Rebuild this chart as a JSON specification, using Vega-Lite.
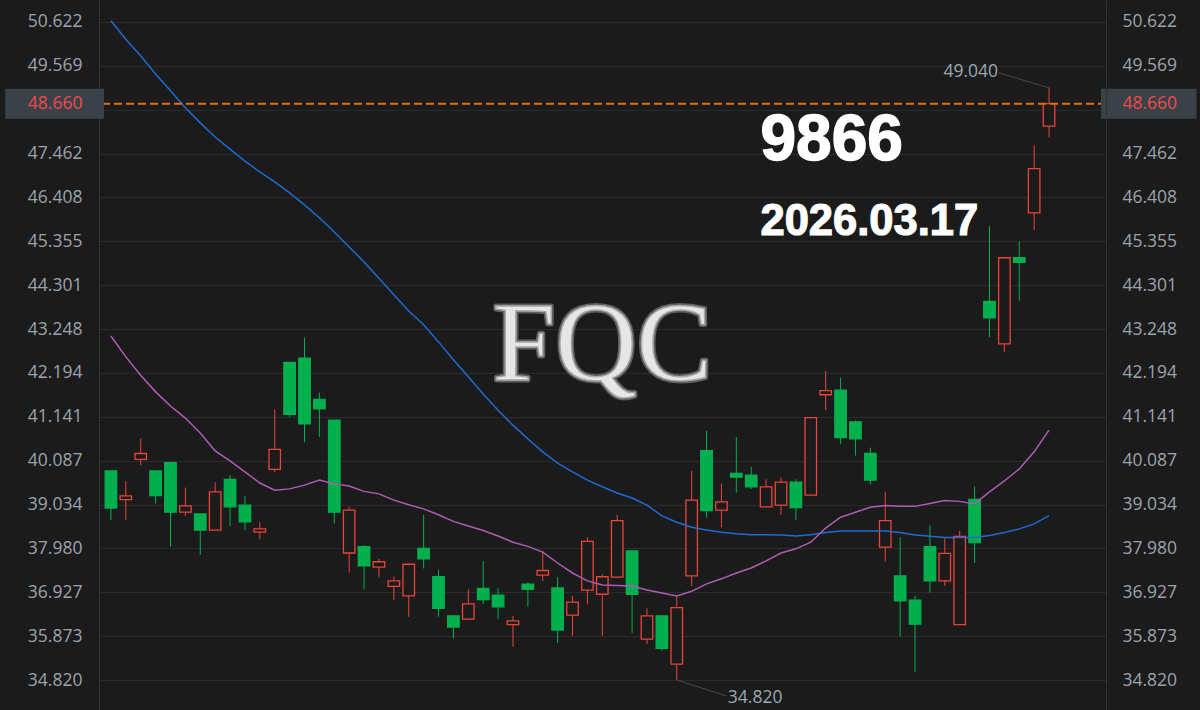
{
  "$schema": "https://vega.github.io/schema/vega-lite/v6.json",
  "width": 1007,
  "height": 710,
  "autosize": {"type": "none"},
  "padding": {"left": 99, "right": 94, "top": 0, "bottom": 0},
  "background": "#1b1b1b",
  "config": {"view": {"stroke": null}},
  "data": {"values": [
    {"i":0,"open":39.84,"high":39.84,"low":38.66,"close":38.95,"ma20":43.08,"ma60":50.65},
    {"i":1,"open":39.15,"high":39.60,"low":38.66,"close":39.24,"ma20":42.58,"ma60":50.21},
    {"i":2,"open":40.12,"high":40.62,"low":39.98,"close":40.26,"ma20":42.14,"ma60":49.81},
    {"i":3,"open":39.84,"high":39.84,"low":39.06,"close":39.25,"ma20":41.74,"ma60":49.37},
    {"i":4,"open":40.04,"high":40.04,"low":38.02,"close":38.85,"ma20":41.40,"ma60":48.97},
    {"i":5,"open":38.85,"high":39.44,"low":38.76,"close":39.00,"ma20":41.11,"ma60":48.56},
    {"i":6,"open":38.81,"high":38.81,"low":37.82,"close":38.42,"ma20":40.75,"ma60":48.20},
    {"i":7,"open":38.42,"high":39.57,"low":38.42,"close":39.34,"ma20":40.32,"ma60":47.86},
    {"i":8,"open":39.64,"high":39.74,"low":38.52,"close":38.98,"ma20":40.08,"ma60":47.57},
    {"i":9,"open":39.02,"high":39.24,"low":38.42,"close":38.62,"ma20":39.82,"ma60":47.28},
    {"i":10,"open":38.37,"high":38.61,"low":38.20,"close":38.45,"ma20":39.55,"ma60":47.02},
    {"i":11,"open":39.88,"high":41.32,"low":39.81,"close":40.36,"ma20":39.38,"ma60":46.78},
    {"i":12,"open":42.45,"high":42.45,"low":41.13,"close":41.20,"ma20":39.41,"ma60":46.52},
    {"i":13,"open":42.55,"high":43.04,"low":40.53,"close":40.97,"ma20":39.50,"ma60":46.23},
    {"i":14,"open":41.56,"high":41.72,"low":40.66,"close":41.33,"ma20":39.62,"ma60":45.92},
    {"i":15,"open":41.06,"high":41.06,"low":38.58,"close":38.85,"ma20":39.53,"ma60":45.58},
    {"i":16,"open":37.87,"high":38.98,"low":37.40,"close":38.90,"ma20":39.48,"ma60":45.22},
    {"i":17,"open":38.02,"high":38.06,"low":37.00,"close":37.56,"ma20":39.35,"ma60":44.86},
    {"i":18,"open":37.53,"high":37.73,"low":37.30,"close":37.66,"ma20":39.29,"ma60":44.47},
    {"i":19,"open":37.07,"high":37.30,"low":36.74,"close":37.20,"ma20":39.14,"ma60":44.07},
    {"i":20,"open":36.84,"high":37.62,"low":36.34,"close":37.60,"ma20":39.03,"ma60":43.68},
    {"i":21,"open":37.98,"high":38.78,"low":37.50,"close":37.73,"ma20":38.93,"ma60":43.35},
    {"i":22,"open":37.30,"high":37.46,"low":36.34,"close":36.54,"ma20":38.79,"ma60":42.94},
    {"i":23,"open":36.36,"high":36.36,"low":35.82,"close":36.09,"ma20":38.63,"ma60":42.51},
    {"i":24,"open":36.28,"high":37.00,"low":36.28,"close":36.65,"ma20":38.52,"ma60":42.10},
    {"i":25,"open":37.02,"high":37.68,"low":36.64,"close":36.75,"ma20":38.41,"ma60":41.69},
    {"i":26,"open":36.86,"high":37.02,"low":36.28,"close":36.58,"ma20":38.28,"ma60":41.30},
    {"i":27,"open":36.15,"high":36.36,"low":35.62,"close":36.24,"ma20":38.13,"ma60":40.94},
    {"i":28,"open":37.12,"high":37.17,"low":36.58,"close":37.00,"ma20":38.03,"ma60":40.61},
    {"i":29,"open":37.34,"high":37.92,"low":37.20,"close":37.45,"ma20":37.89,"ma60":40.30},
    {"i":30,"open":37.03,"high":37.29,"low":35.71,"close":36.02,"ma20":37.63,"ma60":40.03},
    {"i":31,"open":36.38,"high":36.84,"low":35.88,"close":36.69,"ma20":37.39,"ma60":39.82},
    {"i":32,"open":36.98,"high":38.25,"low":36.64,"close":38.15,"ma20":37.20,"ma60":39.62},
    {"i":33,"open":36.88,"high":37.36,"low":35.88,"close":37.30,"ma20":37.10,"ma60":39.46},
    {"i":34,"open":37.29,"high":38.78,"low":37.29,"close":38.65,"ma20":37.09,"ma60":39.31},
    {"i":35,"open":37.92,"high":37.92,"low":35.95,"close":36.88,"ma20":37.08,"ma60":39.19},
    {"i":36,"open":35.80,"high":36.54,"low":35.68,"close":36.36,"ma20":36.98,"ma60":39.02},
    {"i":37,"open":36.36,"high":36.36,"low":35.52,"close":35.58,"ma20":36.91,"ma60":38.76},
    {"i":38,"open":35.20,"high":36.82,"low":34.82,"close":36.56,"ma20":36.84,"ma60":38.61},
    {"i":39,"open":37.32,"high":39.84,"low":37.08,"close":39.14,"ma20":36.95,"ma60":38.49},
    {"i":40,"open":40.33,"high":40.80,"low":38.72,"close":38.89,"ma20":37.13,"ma60":38.42},
    {"i":41,"open":38.90,"high":39.54,"low":38.49,"close":39.10,"ma20":37.25,"ma60":38.37},
    {"i":42,"open":39.78,"high":40.66,"low":39.32,"close":39.69,"ma20":37.39,"ma60":38.33},
    {"i":43,"open":39.74,"high":39.94,"low":39.41,"close":39.46,"ma20":37.51,"ma60":38.31},
    {"i":44,"open":38.98,"high":39.64,"low":38.98,"close":39.46,"ma20":37.68,"ma60":38.31},
    {"i":45,"open":39.02,"high":39.68,"low":38.78,"close":39.57,"ma20":37.87,"ma60":38.30},
    {"i":46,"open":39.57,"high":39.64,"low":38.66,"close":38.96,"ma20":37.97,"ma60":38.28},
    {"i":47,"open":39.26,"high":41.12,"low":39.26,"close":41.12,"ma20":38.13,"ma60":38.31},
    {"i":48,"open":41.67,"high":42.24,"low":41.30,"close":41.77,"ma20":38.47,"ma60":38.36},
    {"i":49,"open":41.78,"high":42.08,"low":40.48,"close":40.64,"ma20":38.73,"ma60":38.40},
    {"i":50,"open":41.02,"high":41.05,"low":40.21,"close":40.61,"ma20":38.85,"ma60":38.40},
    {"i":51,"open":40.26,"high":40.40,"low":39.52,"close":39.62,"ma20":38.97,"ma60":38.40},
    {"i":52,"open":38.01,"high":39.34,"low":37.66,"close":38.65,"ma20":39.01,"ma60":38.40},
    {"i":53,"open":37.32,"high":38.25,"low":35.86,"close":36.72,"ma20":38.99,"ma60":38.36},
    {"i":54,"open":36.74,"high":36.84,"low":35.02,"close":36.16,"ma20":38.99,"ma60":38.30},
    {"i":55,"open":38.02,"high":38.53,"low":36.92,"close":37.20,"ma20":39.06,"ma60":38.27},
    {"i":56,"open":37.20,"high":38.22,"low":37.08,"close":37.86,"ma20":39.13,"ma60":38.24},
    {"i":57,"open":36.15,"high":38.40,"low":36.15,"close":38.27,"ma20":39.11,"ma60":38.24},
    {"i":58,"open":39.16,"high":39.47,"low":37.63,"close":38.12,"ma20":39.05,"ma60":38.24},
    {"i":59,"open":43.91,"high":45.72,"low":43.06,"close":43.52,"ma20":39.34,"ma60":38.29},
    {"i":60,"open":42.89,"high":44.96,"low":42.69,"close":44.96,"ma20":39.60,"ma60":38.36},
    {"i":61,"open":44.96,"high":45.35,"low":43.93,"close":44.85,"ma20":39.89,"ma60":38.45},
    {"i":62,"open":46.04,"high":47.66,"low":45.63,"close":47.10,"ma20":40.30,"ma60":38.57},
    {"i":63,"open":48.12,"high":49.04,"low":47.85,"close":48.66,"ma20":40.82,"ma60":38.77}
  ]},
  "resolve": {"axis": {"y": "independent"}},
  "layer": [
    {
      "mark": {"type": "rule", "strokeWidth": 1},
      "encoding": {
        "x": {"field": "i", "type": "quantitative",
              "scale": {"domain": [-0.465, 66.49], "nice": false, "zero": false},
              "axis": {"values": [14, 35, 52], "grid": true, "gridColor": "#2b2b2b", "gridWidth": 1,
                       "labels": false, "ticks": false, "domain": false, "title": null}},
        "y": {"field": "low", "type": "quantitative",
              "scale": {"domain": [34.10, 51.15], "nice": false, "zero": false},
              "axis": {"orient": "left", "values": [34.82, 35.873, 36.927, 37.98, 39.034, 40.087, 41.141, 42.194, 43.248, 44.301, 45.355, 46.408, 47.462, 48.516, 49.569, 50.622],
                       "grid": true, "gridColor": "#2b2b2b", "gridWidth": 1, "labels": false, "ticks": false,
                       "domain": true, "domainColor": "#343434", "domainWidth": 1, "title": null}},
        "y2": {"field": "high"},
        "color": {"condition": {"test": "datum.close >= datum.open", "value": "#e8453c"}, "value": "#00b04f"}
      }
    },
    {
      "mark": {"type": "bar", "width": 11.5, "strokeWidth": 1.3},
      "encoding": {
        "x": {"field": "i", "type": "quantitative", "axis": null},
        "y": {"field": "open", "type": "quantitative",
              "axis": {"orient": "left", "values": [34.82, 35.873, 36.927, 37.98, 39.034, 40.087, 41.141, 42.194, 43.248, 44.301, 45.355, 46.408, 47.462, 48.66, 49.569, 50.622],
                       "format": ".3f", "grid": false, "ticks": false, "tickSize": 0, "domain": false, "title": null,
                       "labelFont": "Open Sans", "labelFontSize": 17.5, "labelPadding": 17, "labelOverlap": false, "labelFlush": false,
                       "labelColor": {"condition": {"test": "datum.value === 48.66", "value": "#ef4b4b"}, "value": "#9ba3ab"},
                       "zindex": 2}},
        "y2": {"field": "close"},
        "fill": {"condition": {"test": "datum.close >= datum.open", "value": "#1b1b1b"}, "value": "#00b04f"},
        "stroke": {"condition": {"test": "datum.close >= datum.open", "value": "#e8453c"}, "value": "#00b04f"}
      }
    },
    {
      "mark": {"type": "line", "strokeWidth": 1.5, "color": "#1f6bd0"},
      "encoding": {
        "x": {"field": "i", "type": "quantitative", "axis": null},
        "y": {"field": "ma60", "type": "quantitative",
              "axis": {"orient": "right", "values": [34.82, 35.873, 36.927, 37.98, 39.034, 40.087, 41.141, 42.194, 43.248, 44.301, 45.355, 46.408, 47.462, 48.66, 49.569, 50.622],
                       "format": ".3f", "grid": false, "ticks": false, "tickSize": 0, "domain": true, "domainColor": "#343434", "title": null,
                       "labelFont": "Open Sans", "labelFontSize": 17.5, "labelPadding": 16, "labelOverlap": false, "labelFlush": false,
                       "labelColor": {"condition": {"test": "datum.value === 48.66", "value": "#ef4b4b"}, "value": "#9ba3ab"},
                       "zindex": 2}}
      }
    },
    {
      "mark": {"type": "line", "strokeWidth": 1.5, "color": "#b05cb5"},
      "encoding": {
        "x": {"field": "i", "type": "quantitative", "axis": null},
        "y": {"field": "ma20", "type": "quantitative", "axis": null}
      }
    },
    {
      "transform": [{"filter": "datum.i == 63"}],
      "mark": {"type": "rule", "color": "#ea6a1c", "strokeDash": [8, 4], "strokeWidth": 2, "opacity": 1},
      "encoding": {
        "y": {"field": "close", "type": "quantitative", "axis": null}
      }
    },
    {
      "data": {"values": [{}]},
      "mark": {"type": "rect", "color": "#3a4149"},
      "encoding": {
        "x": {"datum": -7.1, "type": "quantitative", "axis": null},
        "x2": {"datum": -0.465},
        "y": {"datum": 49.02, "type": "quantitative", "axis": null},
        "y2": {"datum": 48.30}
      }
    },
    {
      "data": {"values": [{}]},
      "mark": {"type": "rect", "color": "#3a4149"},
      "encoding": {
        "x": {"datum": 66.49, "type": "quantitative", "axis": null},
        "x2": {"datum": 72.9},
        "y": {"datum": 49.02, "type": "quantitative", "axis": null},
        "y2": {"datum": 48.30}
      }
    },
    {
      "data": {"values": [{}]},
      "mark": {"type": "text", "text": "FQC", "font": "Liberation Serif", "fontSize": 113, "align": "center", "baseline": "alphabetic",
               "fill": "#5e5e5e", "stroke": "#5e5e5e", "strokeWidth": 5, "strokeJoin": "round"},
      "encoding": {
        "x": {"datum": 33.0, "type": "quantitative", "axis": null},
        "y": {"datum": 42.02, "type": "quantitative", "axis": null}
      }
    },
    {
      "data": {"values": [{}]},
      "mark": {"type": "text", "text": "FQC", "font": "Liberation Serif", "fontSize": 113, "align": "center", "baseline": "alphabetic",
               "fill": "#e6e6e6", "stroke": "#a8a8a8", "strokeWidth": 1.5},
      "encoding": {
        "x": {"datum": 33.0, "type": "quantitative", "axis": null},
        "y": {"datum": 42.02, "type": "quantitative", "axis": null}
      }
    },
    {
      "data": {"values": [{}]},
      "mark": {"type": "text", "text": "9866", "font": "Liberation Sans", "fontWeight": "bold", "fontSize": 64, "align": "left", "baseline": "alphabetic",
               "fill": "#ffffff", "stroke": "#ffffff", "strokeWidth": 1.5},
      "encoding": {
        "x": {"datum": 43.62, "type": "quantitative", "axis": null},
        "y": {"datum": 47.31, "type": "quantitative", "axis": null}
      }
    },
    {
      "data": {"values": [{}]},
      "mark": {"type": "text", "text": "2026.03.17", "font": "Liberation Sans", "fontWeight": "bold", "fontSize": 43.5, "align": "left", "baseline": "alphabetic",
               "fill": "#ffffff", "stroke": "#ffffff", "strokeWidth": 1.2},
      "encoding": {
        "x": {"datum": 43.62, "type": "quantitative", "axis": null},
        "y": {"datum": 45.51, "type": "quantitative", "axis": null}
      }
    },
    {
      "transform": [{"filter": "datum.i == 63"}],
      "mark": {"type": "rule", "color": "#4a4a4a", "strokeWidth": 1, "x2Offset": -50, "y2Offset": -15},
      "encoding": {
        "x": {"field": "i", "type": "quantitative", "axis": null},
        "y": {"field": "high", "type": "quantitative", "axis": null},
        "x2": {"field": "i"},
        "y2": {"field": "high"}
      }
    },
    {
      "transform": [{"filter": "datum.i == 63"}],
      "mark": {"type": "text", "align": "right", "baseline": "middle", "dx": -51, "dy": -16, "font": "Open Sans", "fontSize": 17.5, "color": "#9aa8b4"},
      "encoding": {
        "x": {"field": "i", "type": "quantitative", "axis": null},
        "y": {"field": "high", "type": "quantitative", "axis": null},
        "text": {"field": "high", "format": ".3f"}
      }
    },
    {
      "transform": [{"filter": "datum.i == 38"}],
      "mark": {"type": "rule", "color": "#4a4a4a", "strokeWidth": 1, "x2Offset": 50, "y2Offset": 16},
      "encoding": {
        "x": {"field": "i", "type": "quantitative", "axis": null},
        "y": {"field": "low", "type": "quantitative", "axis": null},
        "x2": {"field": "i"},
        "y2": {"field": "low"}
      }
    },
    {
      "transform": [{"filter": "datum.i == 38"}],
      "mark": {"type": "text", "align": "left", "baseline": "middle", "dx": 51, "dy": 18, "font": "Open Sans", "fontSize": 17.5, "color": "#9aa8b4"},
      "encoding": {
        "x": {"field": "i", "type": "quantitative", "axis": null},
        "y": {"field": "low", "type": "quantitative", "axis": null},
        "text": {"field": "low", "format": ".3f"}
      }
    }
  ]
}
